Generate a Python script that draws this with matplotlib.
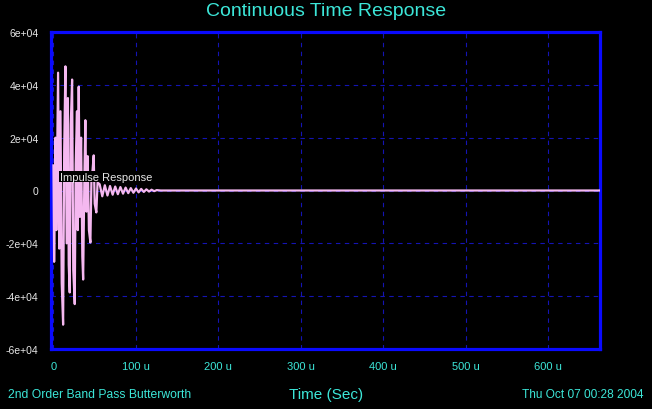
import matplotlib
matplotlib.use("Agg")
import matplotlib.pyplot as plt

# impulse response samples (time in microseconds, value)
t_us = [0, 0.8, 2.5, 3.5, 5.6, 7.0, 8.5, 10.0, 11.7, 13.0, 14.5, 16.0, 17.5, 18.5,
        19.7, 21.0, 22.6, 24.0, 25.8, 27.0, 28.5, 29.5, 30.6, 32.0, 33.5, 35.0,
        36.0, 37.5, 38.7, 40.0, 41.5, 43.0, 44.8, 46.0, 47.5, 48.8, 50.0, 52.0,
        53.5,
        56.0, 59.2, 62.3, 65.5, 68.6, 71.8, 74.9, 78.1, 81.2, 84.4, 87.5, 90.7,
        93.8, 97.0, 100.1, 103.3, 106.4, 109.6, 112.7, 115.9, 119.0, 122.2, 125.3,
        130.0, 663.0]
response = [9500, -27000, 20000, -15000, 44600, -22000, 30000, -35000, -50800, 15000,
            47000, -20000, 35000, -28000, -38600, 25000, 42000, -30000, -43000, 10000,
            30000, -15000, 39300, -10000, 20000, -25000, -33700, 5000, 26600, -8000,
            13000, -15000, -19700, 3000, 8000, 13300, -5000, -8300, 3000,
            2400, -2200, 2000, -1900, 1700, -1600, 1500, -1400, 1300, -1200, 1100,
            -1000, 900, -850, 750, -700, 600, -550, 450, -400, 300, -250, 150,
            0, 0]

x_ticks = [0, 100, 200, 300, 400, 500, 600]
x_labels = ["0", "100 u", "200 u", "300 u", "400 u", "500 u", "600 u"]
y_ticks = [-60000, -40000, -20000, 0, 20000, 40000, 60000]
y_labels = ["-6e+04", "-4e+04", "-2e+04", "0", "2e+04", "4e+04", "6e+04"]

cyan = "#3ce6d8"
plt.rcParams["font.family"] = ["Liberation Sans", "DejaVu Sans"]

fig = plt.figure(figsize=(6.52, 4.10), dpi=100, facecolor="black")
ax = fig.add_axes([51 / 652, 1 - 350 / 410, 549 / 652, 317 / 410], facecolor="black")

ax.plot(t_us, response, color="#f5b8f0", lw=1.6, zorder=3)

ax.set_xlim(-3, 663)
ax.set_ylim(-60000, 60000)
ax.set_xticks(x_ticks)
ax.set_xticklabels(x_labels, color=cyan, fontsize=8)
ax.set_yticks(y_ticks)
ax.set_yticklabels(y_labels, color="#e6e6e6", fontsize=7.5)
ax.tick_params(length=0, pad=9)
ax.grid(True, color="#1414b4", ls=(0, (4, 4)), lw=0.8)
for s in ax.spines.values():
    s.set_color("#0a0aff")
    s.set_linewidth(2.3)

ax.text(8, 5200, "Impulse Response", color="#e6e6e6", fontsize=8, va="center",
        ha="left", zorder=4, bbox=dict(facecolor="black", edgecolor="none", pad=0.5))

fig.text(0.5, 1 - 12 / 410, "Continuous Time Response", color=cyan, fontsize=14,
         ha="center", va="center")
fig.text(326 / 652, 1 - 395 / 410, "Time (Sec)", color=cyan, fontsize=11,
         ha="center", va="center")
fig.text(8 / 652, 1 - 395 / 410, "2nd Order Band Pass Butterworth", color=cyan,
         fontsize=8.7, ha="left", va="center")
fig.text(644 / 652, 1 - 395 / 410, "Thu Oct 07 00:28 2004", color=cyan,
         fontsize=8.6, ha="right", va="center")

fig.savefig("out.png", dpi=100, facecolor="black")
